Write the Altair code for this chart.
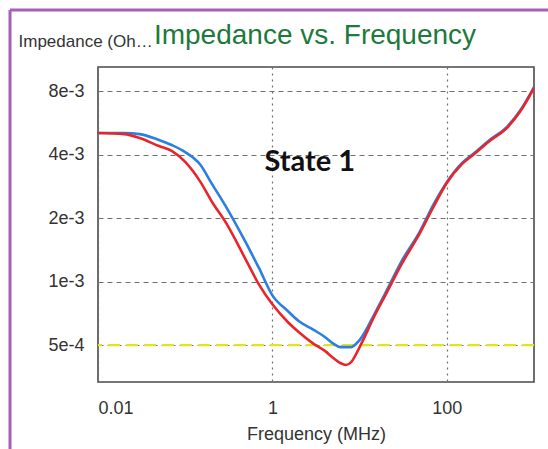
import altair as alt
import pandas as pd

# Frequency (MHz)
freq = [0.01, 0.02, 0.03, 0.05, 0.07, 0.1, 0.15, 0.2, 0.3, 0.5, 0.7, 1, 1.5, 2, 3, 4, 5, 6, 7, 8,
        10, 15, 20, 30, 50, 70, 100, 150, 200, 300, 500, 700, 1000]
# Impedance (Ohms) - blue curve
blue = [5.06e-3, 5.06e-3, 5.0e-3, 4.69e-3, 4.44e-3, 4.11e-3, 3.57e-3, 2.93e-3, 2.23e-3,
        1.52e-3, 1.16e-3, 8.6e-4, 7.25e-4, 6.5e-4, 5.89e-4, 5.46e-4, 5.08e-4, 4.89e-4,
        4.89e-4, 4.89e-4, 5.28e-4, 7.09e-4, 8.9e-4, 1.24e-3, 1.75e-3, 2.31e-3, 2.96e-3,
        3.65e-3, 4.02e-3, 4.64e-3, 5.46e-3, 6.50e-3, 8.36e-3]
# Impedance (Ohms) - red curve
red = [5.06e-3, 5.0e-3, 4.79e-3, 4.39e-3, 4.16e-3, 3.69e-3, 2.96e-3, 2.41e-3, 1.87e-3,
       1.26e-3, 9.7e-4, 7.8e-4, 6.43e-4, 5.76e-4, 5.05e-4, 4.69e-4, 4.34e-4, 4.11e-4,
       4.02e-4, 4.15e-4, 4.89e-4, 6.94e-4, 8.7e-4, 1.20e-3, 1.72e-3, 2.25e-3, 2.93e-3,
       3.61e-3, 3.98e-3, 4.59e-3, 5.40e-3, 6.43e-3, 8.27e-3]

limit_value = [5e-4]
y_ticks = [5e-4, 1e-3, 2e-3, 4e-3, 8e-3]
x_ticks = [0.01, 1, 100]
annot_text = ["State 1"]
annot_freq = [2.68]
annot_imp = [3.69e-3]
chart_title = ["Impedance vs. Frequency"]

df = pd.DataFrame({
    "freq": freq * 2,
    "imp": blue + red,
    "series": ["blue"] * len(freq) + ["red"] * len(freq),
})

xscale = alt.Scale(type="log", domain=[0.01, 1000], nice=False)
yscale = alt.Scale(type="log", domain=[3.34e-4, 1.04e-2], nice=False)

xaxis = alt.Axis(values=x_ticks, format="~g", title="Frequency (MHz)",
                 grid=True, gridDash=[2, 4], gridColor="#707070", gridWidth=1.2,
                 ticks=False, tickSize=0, domain=False,
                 labelFont="Liberation Sans", labelFontSize=18, labelColor="#333333",
                 labelPadding=17, titleFont="Liberation Sans", titleFontSize=18,
                 titleFontWeight="normal", titleColor="#333333", titlePadding=8)
yaxis = alt.Axis(values=y_ticks, format=".0e", title="Impedance (Ohms)",
                 grid=True, gridDash=[5, 4], gridColor="#707070", gridWidth=1.2,
                 ticks=False, tickSize=0, domain=False,
                 labelFont="Liberation Sans", labelFontSize=18, labelColor="#333333",
                 labelPadding=14, titleFont="Liberation Sans", titleFontSize=17,
                 titleFontWeight="normal", titleColor="#333333", titleAngle=0,
                 titleAlign="left", titleBaseline="middle", titleX=-80, titleY=-26,
                 titleLimit=140)

lines = alt.Chart(df).mark_line(strokeWidth=2.6, clip=True, interpolate="monotone").encode(
    x=alt.X("freq:Q", scale=xscale, axis=xaxis),
    y=alt.Y("imp:Q", scale=yscale, axis=yaxis),
    color=alt.Color("series:N", scale=alt.Scale(domain=["red", "blue"],
                                                range=["#e8252b", "#2b7fe3"]), legend=None),
    order=alt.Order("series:N", sort="descending"),
    detail="series:N",
)

limit = alt.Chart(pd.DataFrame({"v": limit_value})).mark_rule(
    color="#e4e21a", strokeWidth=2.2, strokeDash=[12, 6]).encode(
    y=alt.Y("v:Q", scale=yscale))

annot = alt.Chart(pd.DataFrame({"t": annot_text, "f": annot_freq, "z": annot_imp})).mark_text(
    font="Lato", fontSize=29, fontWeight="bold", color="#111111",
    align="center", baseline="middle").encode(
    x=alt.X("f:Q", scale=xscale), y=alt.Y("z:Q", scale=yscale), text="t:N")

title_mark = alt.Chart(pd.DataFrame({"t": chart_title})).mark_text(
    font="Liberation Sans", fontSize=28, color="#1d7a3c", align="center",
    baseline="alphabetic", clip=False).encode(
    x=alt.value(217), y=alt.value(-23), text="t:N")

frame_df = pd.DataFrame({"k": [0]})
frame_top = alt.Chart(frame_df).mark_rule(color="#a660b8", strokeWidth=3, clip=False).encode(
    x=alt.value(-88), x2=alt.value(460), y=alt.value(-57))
frame_left = alt.Chart(frame_df).mark_rule(color="#a660b8", strokeWidth=3, clip=False).encode(
    x=alt.value(-88), y=alt.value(-57), y2=alt.value(400))

chart = alt.layer(limit, lines, annot, title_mark, frame_top, frame_left).properties(
    width=436, height=315,
    autosize=alt.AutoSizeParams(type="none"),
    padding={"left": 98, "top": 67, "right": 14, "bottom": 67},
    background="white",
).configure_view(stroke="#4a4a4a", strokeWidth=1.6)

chart.save("out.html", embed_options={"renderer": "svg", "actions": False})
